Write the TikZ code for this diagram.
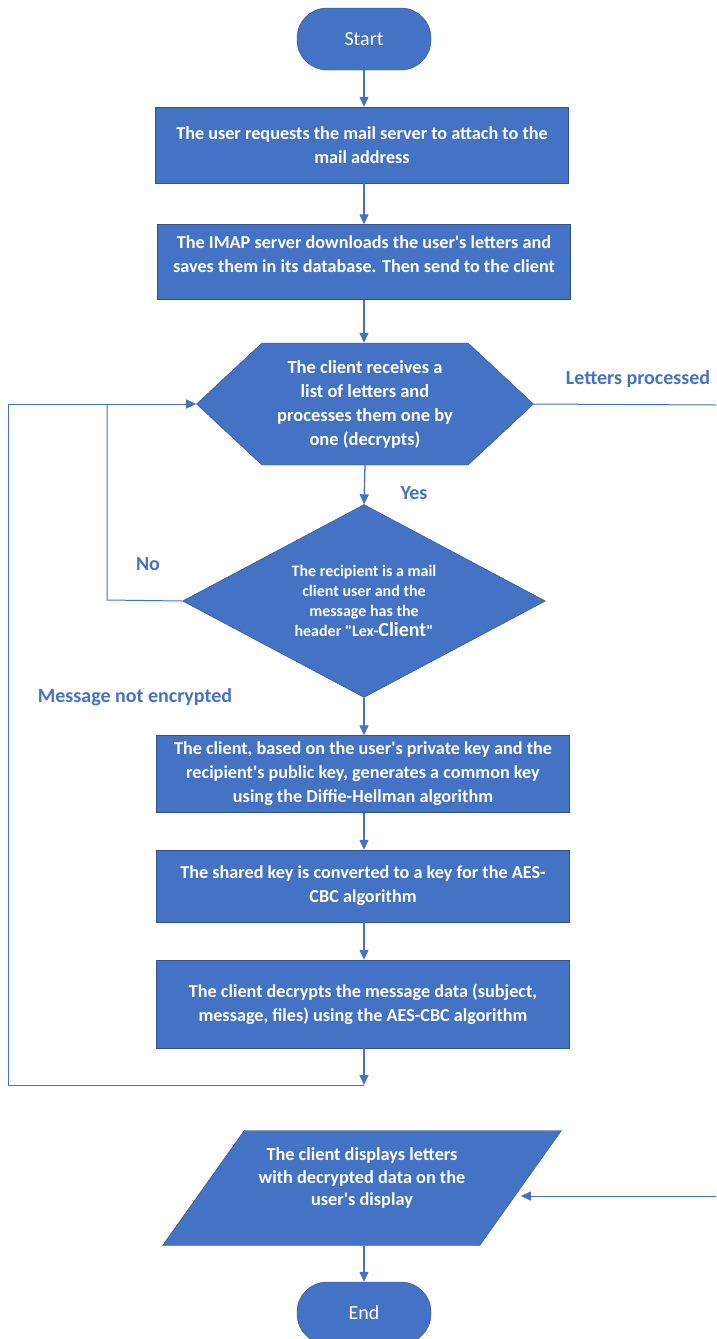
\documentclass[tikz,border=0pt]{standalone}
\usepackage{fontspec}
\setmainfont{Carlito}
\usetikzlibrary{arrows.meta,shapes.geometric,shapes.symbols}
\definecolor{flowblue}{HTML}{4472C4}
\definecolor{flowedge}{HTML}{2F528F}
\newcommand{\aps}{\textquotesingle}

\begin{document}
\begin{tikzpicture}[x=1pt,y=1pt]
\tikzstyle{every node}+=[inner sep=0pt]
\tikzstyle{terminal}=[draw=flowedge,fill=flowblue,text=white,rounded corners=30pt,minimum width=134pt,minimum height=62pt,font=\fontsize{20}{24}\selectfont]
\tikzstyle{process}=[draw=flowedge,fill=flowblue,text=white,minimum width=413pt,align=center,font=\bfseries\fontsize{18.2}{24}\selectfont]
\tikzstyle{flow}=[flowblue,line width=1.3pt,-{Triangle[length=10pt,width=9pt]}]
\tikzstyle{wire}=[flowblue,line width=1pt]
\tikzstyle{label}=[text=flowblue,font=\bfseries\fontsize{20}{24}\selectfont]
\useasboundingbox (0,0) rectangle (716,-1339);
\node [terminal] (start) at (364,-39) {Start};
\node [process,minimum height=76pt] (box1) at (362,-145) {The user requests the mail server to attach to the\\mail address};
\node [process,minimum height=75pt] (box2) at (364,-262) {The IMAP server downloads the user\aps s letters and\\saves them in its database. Then send to the client\\[-8pt]\mbox{}};
\node [signal,signal to=west and east,signal pointer angle=86,draw=flowedge,fill=flowblue,text=white,align=center,minimum width=337pt,minimum height=122pt,font=\bfseries\fontsize{18.5}{24}\selectfont] (hex) at (365,-404) {The client receives a\\list of letters and\\processes them one by\\one (decrypts)};
\node [diamond,aspect=1.88,draw=flowedge,fill=flowblue,text=white,align=center,minimum width=363pt,minimum height=193pt,font=\bfseries\fontsize{16}{20}\selectfont] (dia) at (364,-601) {The recipient is a mail\\client user and the\\message has the\\header \textquotedbl Lex-{\fontsize{20}{20}\selectfont Client}\textquotedbl};
\node [process,minimum height=77pt] (box3) at (363,-774) {The client, based on the user\aps s private key and the\\recipient\aps s public key, generates a common key\\using the Diffie-Hellman algorithm};
\node [process,minimum height=72pt] (box4) at (363,-886) {The shared key is converted to a key for the AES-\\CBC algorithm};
\node [process,minimum height=88pt] (box5) at (363,-1004) {The client decrypts the message data (subject,\\message, files) using the AES-CBC algorithm};
\node [trapezium,trapezium left angle=44.5,trapezium right angle=135.5,trapezium stretches body=true,draw=flowedge,fill=flowblue,text=white,align=center,minimum width=399pt,minimum height=115pt,font=\bfseries\fontsize{18.3}{22.5}\selectfont] (para) at (362,-1188) {The client displays letters\\with decrypted data on the\\user\aps s display\\[0pt]\mbox{}};
\node [terminal] (end) at (364,-1313) {End};
\node [label] (yes) at (414,-493) {Yes};
\node [label] (no) at (148,-564) {No};
\node [label] (notenc) at (135,-697) {Message not encrypted};
\node [label] (done) at (638,-379) {Letters processed};
\coordinate (join) at (364,-1085);
\coordinate (loopbl) at (8,-1085);
\coordinate (looptl) at (8,-404);
\coordinate (nobend) at (107,-600);
\coordinate (notop) at (107,-404);
\coordinate (rightout) at (716,-405);
\coordinate (rightin) at (716,-1196);
% main column
\draw [flow] (start.south) -- (start.south |- box1.north);
\draw [flow] (box1.south -| start.south) -- (start.south |- box2.north);
\draw [flow] (box2.south) -- (box2.south |- hex.north);
\draw [flow] (hex.south) -- (dia.north);
\draw [flow] (dia.south) -- (dia.south |- box3.north);
\draw [flow] (box3.south -| dia.south) -- (dia.south |- box4.north);
\draw [flow] (box4.south -| dia.south) -- (dia.south |- box5.north);
\draw [flow] (box5.south -| join) -- (join);
\draw [flow] (para.south -| end.north) -- (end.north);
% loops
\draw [wire,-{Triangle[length=10pt,width=9pt]}] (join) -- (loopbl) -- (looptl) -- (hex.west);
\draw [wire] (dia.west) -- (nobend) -- (notop);
\draw [wire] (hex.east) -- (rightout);
\draw [wire,-{Triangle[length=10pt,width=9pt]}] (rightin) -- (rightin -| para.east);
\end{tikzpicture}
\end{document}
